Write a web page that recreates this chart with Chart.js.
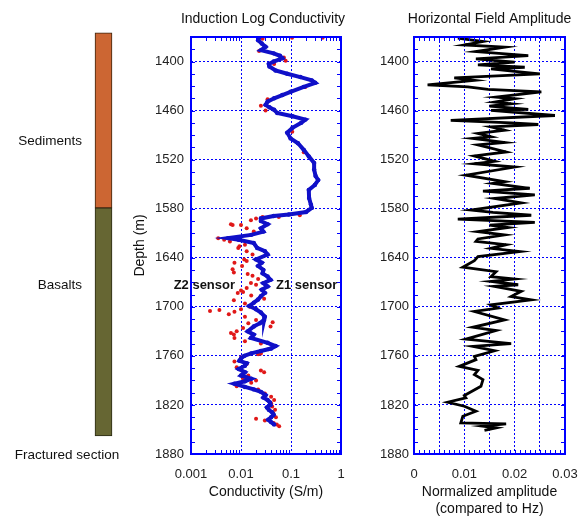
<!DOCTYPE html>
<html>
<head>
<meta charset="utf-8">
<script src="https://cdn.jsdelivr.net/npm/chart.js@4.4.1/dist/chart.umd.min.js"></script>
<style>
  html, body { margin: 0; padding: 0; background: #fff; }
  #wrap { position: relative; width: 579px; height: 516px; overflow: hidden; }
  canvas { position: absolute; top: 0; }
</style>
</head>
<body>
<div id="wrap">
  <canvas id="lith" width="140" height="516" style="left:0px"></canvas>
  <canvas id="cond" width="222" height="516" style="left:128px"></canvas>
  <canvas id="amp" width="229" height="516" style="left:350px"></canvas>
</div>
<script>
// ---- Lithology column ----
const unitNames = ['Sediments', 'Basalts'];
const unitTop = [1365, 1579];
const unitBase = [1579, 1858];

// ---- Axis ticks ----
const depthTicks = [1400, 1460, 1520, 1580, 1640, 1700, 1760, 1820, 1880];
const condTicks = [0.001, 0.01, 0.1, 1];
const ampTicks = [0, 0.01, 0.02, 0.03];
const ampGrid = [0, 0.005, 0.01, 0.015, 0.02, 0.025, 0.03];

// ---- Induction log, Z1 sensor (S/m) ----
const z1Depth = [1371, 1374, 1378, 1382, 1386, 1390, 1393, 1396, 1400, 1403, 1406, 1411, 1415, 1419, 1423, 1426,
  1431, 1437, 1441, 1445, 1449, 1453, 1456, 1459, 1463, 1467, 1471, 1475, 1481, 1487, 1494, 1500, 1508, 1516,
  1524, 1532, 1540, 1545, 1551, 1557, 1567, 1575, 1579, 1584, 1587, 1589, 1592, 1595, 1599, 1604, 1608, 1612,
  1616, 1618, 1622, 1628, 1632, 1636, 1642, 1646, 1650, 1655, 1659, 1663, 1667, 1671, 1675, 1679, 1683, 1687,
  1691, 1695, 1699, 1703, 1707, 1712, 1716, 1720, 1724, 1730, 1734, 1738, 1744, 1748, 1751, 1754, 1757, 1760,
  1763, 1766, 1769, 1772, 1776, 1780, 1784, 1788, 1791, 1794, 1798, 1801, 1804, 1808, 1811, 1814, 1817, 1820,
  1823, 1826, 1829, 1832, 1835, 1838, 1841, 1844];
const z1Cond = [0.023, 0.022, 0.026, 0.031, 0.025, 0.045, 0.060, 0.067, 0.045, 0.036, 0.037, 0.049, 0.084, 0.154, 0.26, 0.305,
  0.18, 0.098, 0.067, 0.046, 0.034, 0.031, 0.037, 0.046, 0.053, 0.107, 0.194, 0.16, 0.107, 0.084, 0.098, 0.138, 0.18, 0.227,
  0.29, 0.29, 0.31, 0.35, 0.30, 0.227, 0.23, 0.25, 0.26, 0.20, 0.09, 0.045, 0.025, 0.025, 0.034, 0.025, 0.028, 0.016,
  0.0055, 0.009, 0.018, 0.021, 0.030, 0.034, 0.020, 0.026, 0.022, 0.028, 0.027, 0.034, 0.039, 0.028, 0.034, 0.026, 0.030, 0.025,
  0.022, 0.018, 0.0146, 0.020, 0.025, 0.030, 0.029, 0.024, 0.018, 0.0136, 0.018, 0.0158, 0.034, 0.049, 0.040, 0.025, 0.016, 0.0116,
  0.010, 0.0093, 0.013, 0.012, 0.009, 0.012, 0.010, 0.016, 0.012, 0.0074, 0.012, 0.018, 0.025, 0.031, 0.028, 0.034, 0.038, 0.039,
  0.033, 0.036, 0.042, 0.045, 0.040, 0.035, 0.040, 0.046];

// ---- Induction log, Z2 sensor (S/m) ----
const z2Depth = [1371, 1371, 1372, 1387, 1395, 1399, 1403, 1431, 1446, 1454, 1460, 1486, 1511, 1588, 1590,
  1590, 1592, 1594, 1599, 1600, 1600, 1604, 1608, 1616, 1618, 1620, 1624, 1626, 1628, 1632, 1636, 1642, 1644,
  1646, 1650, 1654, 1658, 1660, 1662, 1666, 1671, 1673, 1677, 1680, 1682, 1683, 1686, 1690, 1692, 1696, 1700,
  1703, 1704, 1705, 1706, 1709, 1712, 1716, 1719, 1720, 1724, 1726, 1730, 1732, 1734, 1738, 1742, 1745, 1748,
  1752, 1757, 1758, 1762, 1767, 1770, 1774, 1778, 1780, 1784, 1788, 1790, 1793, 1797, 1801, 1806, 1810, 1814,
  1818, 1822, 1826, 1830, 1835, 1837, 1839, 1842, 1844, 1846];
const z2Cond = [0.105, 0.43, 0.027, 0.023, 0.072, 0.078, 0.046, 0.194, 0.034, 0.025, 0.031, 0.106, 0.18, 0.15, 0.057,
  0.027, 0.020, 0.0158, 0.0063, 0.0068, 0.010, 0.013, 0.018, 0.0035, 0.0046, 0.0060, 0.012, 0.0093, 0.0088, 0.013, 0.017, 0.0116, 0.013,
  0.0074, 0.0105, 0.0068, 0.0072, 0.0136, 0.017, 0.022, 0.0158, 0.020, 0.013, 0.010, 0.011, 0.0086, 0.016, 0.029, 0.0072, 0.012, 0.015,
  0.010, 0.0037, 0.0024, 0.0074, 0.0057, 0.012, 0.020, 0.043, 0.014, 0.039, 0.011, 0.0082, 0.0063, 0.0072, 0.0074, 0.012, 0.025, 0.043,
  0.035, 0.025, 0.022, 0.010, 0.0074, 0.013, 0.0082, 0.025, 0.029, 0.014, 0.011, 0.020, 0.016, 0.0082, 0.022, 0.030, 0.040, 0.046,
  0.040, 0.042, 0.048, 0.044, 0.050, 0.020, 0.030, 0.045, 0.052, 0.058];

// ---- Horizontal field amplitude (normalized to Hz) ----
const ampDepth = [1371.5, 1375.6, 1379.7, 1382.5, 1387.8, 1392.7, 1396.7, 1400.8, 1404, 1407, 1409, 1412, 1415, 1420,
  1423, 1428.5, 1431, 1434, 1437, 1443.5, 1445.5, 1449.6, 1451.6, 1454.5, 1458.5, 1459.8, 1466, 1472, 1475, 1477,
  1480, 1484, 1488, 1492, 1494, 1499, 1502, 1510.6, 1515.4, 1522, 1525, 1529, 1539, 1547, 1549, 1555, 1558.5, 1563,
  1567.5, 1572.8, 1581.7, 1584.6, 1588, 1592.7, 1596.7, 1600, 1603, 1608, 1612, 1617, 1620, 1624, 1628.5, 1632.5,
  1638.6, 1643.5, 1651.6, 1657, 1663, 1666, 1669, 1673, 1675, 1681, 1687.4, 1691.5, 1697.6, 1701.6, 1705.7, 1716,
  1725, 1729, 1739.4, 1745, 1748.4, 1753.7, 1760.6, 1764.6, 1772.8, 1777.7, 1783, 1789, 1797.2, 1808.5, 1811.4,
  1816.7, 1821.6, 1827.7, 1833.8, 1841.9, 1843.1, 1846, 1848, 1851];
const ampValue = [0.0087, 0.0137, 0.010, 0.018, 0.0123, 0.0227, 0.0123, 0.020, 0.0127, 0.022, 0.0153, 0.020, 0.025, 0.008,
  0.012, 0.0027, 0.0107, 0.0147, 0.0253, 0.0163, 0.020, 0.016, 0.0193, 0.015, 0.0227, 0.0153, 0.028, 0.0073, 0.0193, 0.0247,
  0.0153, 0.018, 0.0127, 0.0153, 0.0117, 0.018, 0.0127, 0.0183, 0.012, 0.016, 0.012, 0.020, 0.0103, 0.018, 0.0157, 0.023, 0.0137, 0.024,
  0.016, 0.0213, 0.0113, 0.0157, 0.0233, 0.0087, 0.024, 0.015, 0.0187, 0.0127, 0.018, 0.0127, 0.0123, 0.0183, 0.0153, 0.021,
  0.0127, 0.012, 0.0097, 0.0163, 0.0153, 0.020, 0.0153, 0.0207, 0.016, 0.0213, 0.0193, 0.0233, 0.0153, 0.0167, 0.012, 0.018,
  0.0117, 0.0163, 0.0103, 0.0193, 0.0117, 0.016, 0.012, 0.0123, 0.009, 0.0127, 0.012, 0.0137, 0.0133, 0.010, 0.0103,
  0.0067, 0.010, 0.0123, 0.0097, 0.0093, 0.0183, 0.0137, 0.0163, 0.014];

// ---- Shared styling ----
const FONT = "'Liberation Sans', Arial, Helvetica, sans-serif";
Chart.defaults.font.family = FONT;
Chart.defaults.color = '#222';
const FRAME_BLUE = '#0000ff';
const DEPTH_MIN = 1370, DEPTH_MAX = 1880;

const toPoints = (ys, xs) => ys.map((d, i) => ({ x: xs[i], y: d }));

// minor tick positions along the depth axis (every 15 m)
const depthMinor = [];
for (let d = DEPTH_MIN + 15; d < DEPTH_MAX; d += 15) depthMinor.push(d);
// log minor ticks 2..9 per decade
const condMinor = [];
[0.001, 0.01, 0.1].forEach(dec => { for (let k = 2; k <= 9; k++) condMinor.push(k * dec); });
// amplitude minor ticks every 0.001
const ampMinor = [];
for (let k = 1; k < 30; k++) ampMinor.push(k / 1000);

// Blue frame with inward tick marks on all four sides
const framePlugin = {
  id: 'frame',
  afterDatasetsDraw(chart, args, opts) {
    const { ctx, chartArea: a, scales: { x, y } } = chart;
    ctx.save();
    ctx.strokeStyle = FRAME_BLUE;
    ctx.lineWidth = 1;
    ctx.beginPath();
    opts.yMinor.forEach(d => {
      const py = Math.round(y.getPixelForValue(d)) + 0.5;
      ctx.moveTo(a.left, py); ctx.lineTo(a.left + 4, py);
      ctx.moveTo(a.right, py); ctx.lineTo(a.right - 4, py);
    });
    opts.xMinor.forEach(v => {
      const px = Math.round(x.getPixelForValue(v)) + 0.5;
      ctx.moveTo(px, a.top); ctx.lineTo(px, a.top + 4);
      ctx.moveTo(px, a.bottom); ctx.lineTo(px, a.bottom - 4);
    });
    ctx.stroke();
    ctx.lineWidth = 2;
    ctx.strokeRect(a.left, a.top, a.right - a.left, a.bottom - a.top);
    ctx.restore();
  }
};

// Panel heading above the plot
const headingPlugin = {
  id: 'heading',
  afterDraw(chart, args, opts) {
    const { ctx, chartArea: a } = chart;
    ctx.save();
    ctx.font = `14px ${FONT}`;
    ctx.fillStyle = '#111';
    ctx.textAlign = 'center';
    ctx.textBaseline = 'middle';
    ctx.fillText(opts.text, (a.left + a.right) / 2 + (opts.dx || 0), 19);
    ctx.restore();
  }
};

// Sensor labels inside the conductivity panel
const sensorLabels = {
  id: 'sensorLabels',
  afterDraw(chart) {
    const { ctx, scales: { x, y } } = chart;
    ctx.save();
    ctx.font = `bold 13px ${FONT}`;
    ctx.fillStyle = '#111';
    ctx.textBaseline = 'middle';
    const py = y.getPixelForValue(1674);
    ctx.textAlign = 'right';
    ctx.fillText('Z2 sensor', x.getPixelForValue(0.0076), py);
    ctx.textAlign = 'left';
    ctx.fillText('Z1 sensor', x.getPixelForValue(0.05), py);
    ctx.restore();
  }
};

// Unit names beside the lithology column
const unitText = {
  id: 'unitText',
  afterDraw(chart) {
    const { ctx } = chart;
    ctx.save();
    ctx.font = `13.5px ${FONT}`;
    ctx.fillStyle = '#111';
    ctx.textBaseline = 'middle';
    ctx.textAlign = 'right';
    ctx.fillText(unitNames[0], 82, 141);
    ctx.fillText(unitNames[1], 82, 285);
    ctx.textAlign = 'center';
    ctx.fillText('Fractured section', 67, 455);
    ctx.restore();
  }
};

const fixTicks = list => s => { s.ticks = list.map(v => ({ value: v })); };
const noPadX = h => s => { s.height = h; s.paddingLeft = 0; s.paddingRight = 0; };
const noPadY = w => s => { s.width = w; s.paddingTop = 0; s.paddingBottom = 0; };

// ---- Lithology column chart ----
new Chart(document.getElementById('lith'), {
  type: 'bar',
  data: {
    labels: ['unit'],
    datasets: [
      { label: unitNames[0], data: [[unitTop[0], unitBase[0]]], backgroundColor: '#cc6633',
        borderColor: '#3a2410', borderWidth: 1, borderSkipped: false, grouped: false, clip: false, barThickness: 17 },
      { label: unitNames[1], data: [[unitTop[1], unitBase[1]]], backgroundColor: '#666633',
        borderColor: '#2a2a14', borderWidth: 1, borderSkipped: false, grouped: false, clip: false, barThickness: 17 }
    ]
  },
  options: {
    responsive: false, animation: false, events: [],
    layout: { padding: { top: 37, bottom: 62, left: 67, right: 0 } },
    plugins: { legend: { display: false }, tooltip: { enabled: false } },
    scales: {
      x: { display: false },
      y: { display: false, reverse: true, min: DEPTH_MIN, max: DEPTH_MAX }
    }
  },
  plugins: [unitText]
});

// ---- Conductivity chart ----
new Chart(document.getElementById('cond'), {
  type: 'scatter',
  data: {
    datasets: [
      { label: 'Z1 sensor', data: toPoints(z1Depth, z1Cond), showLine: true, borderColor: '#1010c8',
        backgroundColor: '#1010c8', borderWidth: 4, pointRadius: 2.2, pointBorderWidth: 0, tension: 0 },
      { label: 'Z2 sensor', data: toPoints(z2Depth, z2Cond), showLine: false, backgroundColor: '#e01818',
        borderColor: '#e01818', pointRadius: 2, pointBorderWidth: 0 }
    ]
  },
  options: {
    responsive: false, animation: false, events: [],
    layout: { padding: { top: 37, bottom: 0, left: 0, right: 9 } },
    plugins: {
      legend: { display: false }, tooltip: { enabled: false },
      frame: { yMinor: depthMinor, xMinor: condMinor },
      heading: { text: 'Induction Log Conductivity', dx: -3 }
    },
    scales: {
      x: {
        type: 'logarithmic', min: 0.001, max: 1,
        afterBuildTicks: fixTicks(condTicks), afterFit: noPadX(62),
        ticks: { padding: 13, autoSkip: false, maxRotation: 0, font: { size: 13 }, color: '#222', callback: v => String(v) },
        grid: { color: FRAME_BLUE, lineWidth: 1, drawTicks: false },
        border: { display: false, dash: [2, 2] },
        title: { display: true, text: 'Conductivity (S/m)', font: { size: 14 }, color: '#111', padding: { top: 0, bottom: 15 } }
      },
      y: {
        type: 'linear', reverse: true, min: DEPTH_MIN, max: DEPTH_MAX,
        afterBuildTicks: fixTicks(depthTicks), afterFit: noPadY(63),
        ticks: { padding: 7, font: { size: 13 }, color: '#222', callback: v => String(v) },
        grid: { color: FRAME_BLUE, lineWidth: 1, drawTicks: false },
        border: { display: false, dash: [2, 2] },
        title: { display: true, text: 'Depth (m)', font: { size: 14 }, color: '#111', padding: { top: 4, bottom: 0 } }
      }
    }
  },
  plugins: [framePlugin, headingPlugin, sensorLabels]
});

// ---- Horizontal field amplitude chart ----
new Chart(document.getElementById('amp'), {
  type: 'scatter',
  data: {
    datasets: [
      { label: 'Amplitude', data: toPoints(ampDepth, ampValue), showLine: true, borderColor: '#000',
        borderWidth: 2.8, pointRadius: 0, tension: 0 }
    ]
  },
  options: {
    responsive: false, animation: false, events: [],
    layout: { padding: { top: 37, bottom: 0, left: 0, right: 14 } },
    plugins: {
      legend: { display: false }, tooltip: { enabled: false },
      frame: { yMinor: depthMinor, xMinor: ampMinor },
      heading: { text: 'Horizontal Field Amplitude', dx: 0 }
    },
    scales: {
      x: {
        type: 'linear', min: 0, max: 0.03,
        afterBuildTicks: fixTicks(ampGrid), afterFit: noPadX(62),
        ticks: { padding: 13, autoSkip: false, maxRotation: 0, font: { size: 13 }, color: '#222',
          callback: v => (ampTicks.includes(v) ? String(v) : '') },
        grid: { color: FRAME_BLUE, lineWidth: 1, drawTicks: false },
        border: { display: false, dash: [2, 2] },
        title: { display: true, text: ['Normalized amplitude', '(compared to Hz)'], font: { size: 14, lineHeight: 1.18 },
          color: '#111', padding: { top: 0, bottom: -1.3 } }
      },
      y: {
        type: 'linear', reverse: true, min: DEPTH_MIN, max: DEPTH_MAX,
        afterBuildTicks: fixTicks(depthTicks), afterFit: noPadY(64),
        ticks: { padding: 5, font: { size: 13 }, color: '#222', callback: v => String(v) },
        grid: { color: FRAME_BLUE, lineWidth: 1, drawTicks: false },
        border: { display: false, dash: [2, 2] }
      }
    }
  },
  plugins: [framePlugin, headingPlugin]
});
</script>
</body>
</html>
